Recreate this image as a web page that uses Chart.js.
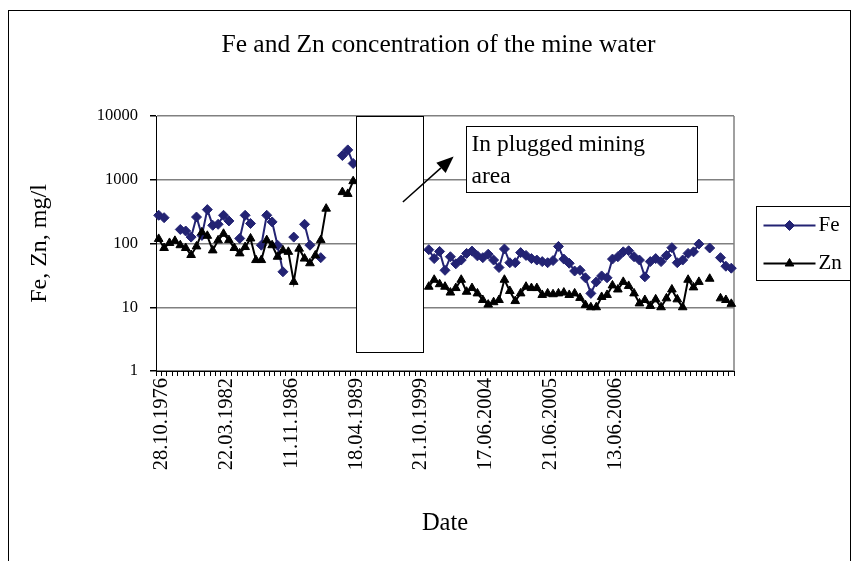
<!DOCTYPE html>
<html>
<head>
<meta charset="utf-8">
<script src="https://cdn.jsdelivr.net/npm/chart.js@4.4.0/dist/chart.umd.min.js"></script>
<style>
  html, body { margin: 0; padding: 0; background: #fff; }
</style>
</head>
<body>
<canvas id="chart" width="853" height="561"></canvas>
<script>
// Sampling dates: only every 12th sample carries a label on the axis
const tickLabels = ['28.10.1976', '22.03.1982', '11.11.1986', '18.04.1989',
  '21.10.1999', '17.06.2004', '21.06.2005', '13.06.2006'];
const labelEvery = 12;
const sampleCount = 107;

// Fe, mg/l (null = no sample / hidden period)
const feBefore = [277, 254, null, null, 166, 157, 126, 260, 134, 340,
  193, 200, 277, 226, null, 120, 277, 206, null, 94,
  277, 218, 94, 36, null, 126, null, 200, 94, null,
  60, null, null, null, 2400, 2940, 1800];
const feAfter = [80, 58, 75, 38, 62, 48, 55, 70, 76, 64,
  60, 68, 55, 42, 82, 50, 50, 72, 65, 58,
  55, 52, 50, 54, 90, 57, 49, 37, 38, 29,
  16.5, 25, 31, 29, 57, 62, 74, 77, 62, 55,
  30, 52, 58, 52, 65, 86, 50, 55, 70, 74,
  98, null, 85, null, 60, 44, 41];

// Zn, mg/l
const znBefore = [118, 85, 102, 110, 94, 85, 66, 90, 150, 132,
  78, 112, 142, 113, 85, 70, 88, 120, 55, 55,
  113, 94, 62, 78, 74, 25, 83, 58, 49, 65,
  113, 352, null, null, 640, 600, 950];
const znAfter = [21, 27, 23, 21, 17, 20, 27, 17.5, 20, 16.5,
  13, 11, 12, 13, 27, 18, 12.5, 16.5, 21, 20,
  20, 15.6, 16.5, 16, 16.5, 17, 15.6, 16.5, 14, 10.8,
  10, 10, 14.5, 15.6, 22, 19, 25, 21.6, 16.5, 11.5,
  13, 10.5, 13.3, 10, 13.8, 19, 13.3, 10, 27, 20.5,
  25, null, 28, null, 13.8, 13, 11.3];

const yTicks = [1, 10, 100, 1000, 10000];

// samples hidden behind the "plugged" box
const gapCount = sampleCount - feBefore.length - feAfter.length;
const gap = new Array(gapCount).fill(null);
const feValues = feBefore.concat(gap, feAfter);
const znValues = znBefore.concat(gap, znAfter);

const categories = [];
for (let i = 0; i < sampleCount; i++) {
  categories.push(i % labelEvery === 0 && tickLabels[i / labelEvery] ? tickLabels[i / labelEvery] : '');
}

const serif = "'Liberation Serif', 'Times New Roman', serif";
const feColor = '#232373';

// annotation placed in data coordinates (category index, mg/l)
const plugBox = { from: 36.5, to: 49, top: 10000, bottom: 2 };
const noteBox = { from: 56.9, to: 99.7, top: 7050, bottom: 640, lines: ['In plugged mining', 'area'] };
const arrow = { x0: 45.2, y0: 447, x1: 54.6, y1: 2312 };

const overlay = {
  id: 'overlay',
  beforeDatasetsDraw(chart) {
    const { ctx, chartArea: a } = chart;
    ctx.save();
    ctx.strokeStyle = '#808080';
    ctx.lineWidth = 1.5;
    ctx.beginPath();
    ctx.moveTo(a.right, a.top);
    ctx.lineTo(a.right, a.bottom);
    ctx.stroke();
    ctx.restore();
  },
  afterDatasetsDraw(chart) {
    const { ctx, scales: { x, y } } = chart;
    ctx.save();
    ctx.lineWidth = 1;
    ctx.strokeStyle = '#000';
    ctx.fillStyle = '#fff';

    // plugged period box
    let l = Math.round(x.getPixelForValue(plugBox.from)) + 0.5;
    let r = Math.round(x.getPixelForValue(plugBox.to)) + 0.5;
    let t = Math.round(y.getPixelForValue(plugBox.top)) + 0.5;
    let b = Math.round(y.getPixelForValue(plugBox.bottom)) + 0.5;
    ctx.fillRect(l, t, r - l, b - t);
    ctx.strokeRect(l, t, r - l, b - t);

    // arrow
    const ax0 = x.getPixelForValue(arrow.x0), ay0 = y.getPixelForValue(arrow.y0);
    const ax1 = x.getPixelForValue(arrow.x1), ay1 = y.getPixelForValue(arrow.y1);
    const ang = Math.atan2(ay1 - ay0, ax1 - ax0);
    const headLen = 17, headW = 7;
    const bx = ax1 - Math.cos(ang) * headLen, by = ay1 - Math.sin(ang) * headLen;
    ctx.lineWidth = 1.5;
    ctx.beginPath();
    ctx.moveTo(ax0, ay0);
    ctx.lineTo(bx, by);
    ctx.stroke();
    ctx.fillStyle = '#000';
    ctx.beginPath();
    ctx.moveTo(ax1, ay1);
    ctx.lineTo(bx + Math.sin(ang) * headW, by - Math.cos(ang) * headW);
    ctx.lineTo(bx - Math.sin(ang) * headW, by + Math.cos(ang) * headW);
    ctx.closePath();
    ctx.fill();

    // note text box
    l = Math.round(x.getPixelForValue(noteBox.from)) + 0.5;
    r = Math.round(x.getPixelForValue(noteBox.to)) + 0.5;
    t = Math.round(y.getPixelForValue(noteBox.top)) + 0.5;
    b = Math.round(y.getPixelForValue(noteBox.bottom)) + 0.5;
    ctx.lineWidth = 1;
    ctx.fillStyle = '#fff';
    ctx.fillRect(l, t, r - l, b - t);
    ctx.strokeRect(l, t, r - l, b - t);
    ctx.fillStyle = '#000';
    ctx.font = '23.5px ' + serif;
    ctx.textBaseline = 'middle';
    ctx.textAlign = 'left';
    noteBox.lines.forEach((line, i) => ctx.fillText(line, l + 5, t + 18 + i * 32));
    ctx.restore();
  },
  afterDraw(chart) {
    const { ctx } = chart;
    ctx.save();
    ctx.strokeStyle = '#000';
    ctx.lineWidth = 1;
    ctx.strokeRect(8.5, 10.5, 842, 600);
    ctx.restore();
  }
};

// legend in its own layout box on the right
const sideLegend = {
  id: 'sideLegend',
  start(chart) {
    const box = {
      position: 'right', weight: 0, fullSize: false, options: {},
      isHorizontal() { return false; },
      update(maxWidth, maxHeight) { this.width = 119; this.height = maxHeight; },
      draw() {
        const ctx = chart.ctx;
        const a = chart.chartArea;
        const fl = this.left + 22.5;
        const ft = Math.round((a.top + a.bottom) / 2) - 37.5;
        ctx.save();
        ctx.fillStyle = '#fff';
        ctx.strokeStyle = '#000';
        ctx.lineWidth = 1;
        ctx.fillRect(fl, ft, 94, 74);
        ctx.strokeRect(fl, ft, 94, 74);
        chart.data.datasets.forEach((ds, i) => {
          const cy = ft + 19 + i * 38;
          ctx.strokeStyle = ds.borderColor;
          ctx.lineWidth = 2;
          ctx.beginPath();
          ctx.moveTo(fl + 7, cy);
          ctx.lineTo(fl + 59, cy);
          ctx.stroke();
          ctx.fillStyle = ds.borderColor;
          ctx.lineWidth = 1;
          Chart.helpers.drawPoint(ctx, { pointStyle: ds.pointStyle, radius: ds.pointRadius, rotation: 0, borderWidth: 1 }, fl + 33, cy);
          ctx.fillStyle = '#000';
          ctx.font = '21px ' + serif;
          ctx.textBaseline = 'middle';
          ctx.textAlign = 'left';
          ctx.fillText(ds.label, fl + 62, cy);
        });
        ctx.restore();
      }
    };
    Chart.layouts.addBox(chart, box);
  }
};

new Chart(document.getElementById('chart'), {
  type: 'line',
  data: {
    labels: categories,
    datasets: [
      {
        label: 'Fe',
        data: feValues,
        borderColor: feColor,
        backgroundColor: feColor,
        borderWidth: 2,
        pointStyle: 'rectRot',
        pointRadius: 5,
        pointBorderWidth: 1,
        pointBackgroundColor: feColor,
        tension: 0,
        order: 1
      },
      {
        label: 'Zn',
        data: znValues,
        borderColor: '#000',
        backgroundColor: '#000',
        borderWidth: 2,
        pointStyle: 'triangle',
        pointRadius: 5,
        pointBorderWidth: 1,
        pointBackgroundColor: '#000',
        tension: 0,
        order: 0
      }
    ]
  },
  options: {
    responsive: false,
    animation: false,
    devicePixelRatio: 1,
    layout: { padding: { left: 24, right: 0, top: 0, bottom: 0 } },
    plugins: {
      legend: { display: false },
      tooltip: { enabled: false },
      title: {
        display: true,
        text: 'Fe and Zn concentration of the mine water',
        color: '#000',
        font: { family: serif, size: 25.5, weight: 'normal' },
        padding: { top: 30, bottom: 55.4 }
      }
    },
    scales: {
      x: {
        type: 'category',
        offset: true,
        afterFit(s) { s.height = 190; },
        grid: { offset: true, drawOnChartArea: false, drawTicks: true, tickLength: 5, color: '#000', lineWidth: 1 },
        border: { color: '#000', width: 1 },
        ticks: {
          autoSkip: false, maxRotation: 90, minRotation: 90, padding: 2, labelOffset: 3,
          color: '#000', font: { family: serif, size: 20.5 }
        },
        title: {
          display: true, text: 'Date', color: '#000',
          font: { family: serif, size: 24.5 }, padding: { top: 0, bottom: 23 }
        }
      },
      y: {
        type: 'logarithmic',
        min: 1,
        max: 10000,
        afterFit(s) { s.width = 132; },
        afterBuildTicks(s) { s.ticks = yTicks.map(v => ({ value: v })); },
        grid: { color: '#808080', lineWidth: 1.5, tickColor: '#000', tickLength: 6, drawTicks: true },
        border: { color: '#000', width: 1 },
        ticks: {
          padding: 12, color: '#000', font: { family: serif, size: 16.5 },
          callback: v => String(v)
        },
        title: {
          display: true, text: 'Fe, Zn, mg/l', color: '#000',
          font: { family: serif, size: 24 }, padding: { top: 1.6, bottom: 0 }
        }
      }
    }
  },
  plugins: [overlay, sideLegend]
});
</script>
</body>
</html>
